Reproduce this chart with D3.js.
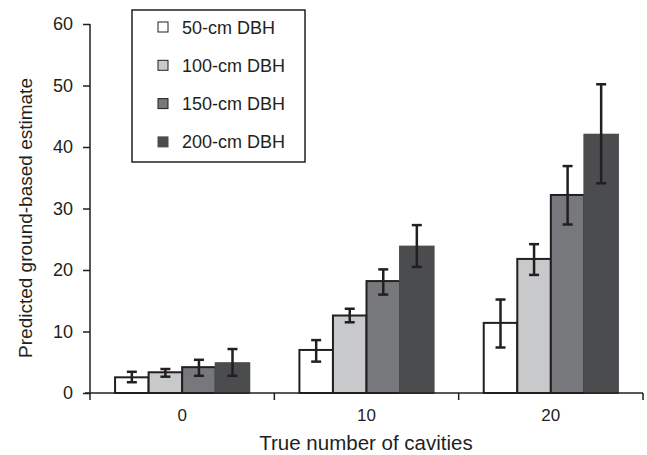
<!DOCTYPE html>
<html>
<head>
<meta charset="utf-8">
<script src="https://cdn.jsdelivr.net/npm/d3@7"></script>
<style>
  body { margin: 0; background: #fff; }
  text { font-family: "Liberation Sans", Arial, sans-serif; fill: #231f20; }
</style>
</head>
<body>
<svg id="chart" width="647" height="455"></svg>
<script>
const groups = ['0', '10', '20'];
const series = ['50-cm DBH', '100-cm DBH', '150-cm DBH', '200-cm DBH'];
const colors = ['#ffffff', '#c8c9cb', '#77787b', '#4b4c4e'];

// bar heights per series, one value per group
const values = [
  [2.55, 7.0, 11.4],
  [3.37, 12.6, 21.8],
  [4.2, 18.2, 32.2],
  [4.85, 23.8, 42.0]
];
// error bar ends
const lower = [
  [1.75, 5.1, 7.4],
  [2.65, 11.5, 19.2],
  [2.8, 16.0, 27.4],
  [2.8, 20.5, 34.1]
];
const upper = [
  [3.45, 8.6, 15.2],
  [3.9, 13.7, 24.2],
  [5.4, 20.1, 36.9],
  [7.15, 27.3, 50.2]
];
const yTicks = [0, 10, 20, 30, 40, 50, 60];

let svg = d3.select('#chart');

let margin = { left: 90, right: 4, top: 24, bottom: 62 };

let x0 = d3.scaleBand()
  .domain(groups)
  .range([margin.left, 643])
  .paddingInner(0.272)
  .paddingOuter(0.136);

let x1 = d3.scaleBand()
  .domain(series)
  .range([0, x0.bandwidth()]);

let y = d3.scaleLinear()
  .domain([0, 60])
  .range([393, 24]);

let data = [];
series.forEach((s, i) => {
  groups.forEach((g, j) => {
    data.push({ s: s, i: i, g: g, v: values[i][j], lo: lower[i][j], hi: upper[i][j] });
  });
});

// bars
svg.selectAll('.bar')
  .data(data)
  .enter()
  .append('rect')
  .attr('class', 'bar')
  .attr('x', d => x0(d.g) + x1(d.s))
  .attr('y', d => y(d.v))
  .attr('width', x1.bandwidth())
  .attr('height', d => y(0) - y(d.v))
  .attr('fill', d => colors[d.i])
  .attr('stroke', d => d.i == 3 ? '#4b4c4e' : '#231f20')
  .attr('stroke-width', 2);

// error bars
let err = svg.selectAll('.err')
  .data(data)
  .enter()
  .append('g')
  .attr('class', 'err')
  .attr('transform', d => `translate(${x0(d.g) + x1(d.s) + x1.bandwidth() / 2},0)`)
  .attr('stroke', '#231f20')
  .attr('stroke-width', 2.5);
err.append('line')
  .attr('x1', 0).attr('x2', 0)
  .attr('y1', d => y(d.lo)).attr('y2', d => y(d.hi));
err.append('line')
  .attr('x1', -5).attr('x2', 5)
  .attr('y1', d => y(d.lo)).attr('y2', d => y(d.lo));
err.append('line')
  .attr('x1', -5).attr('x2', 5)
  .attr('y1', d => y(d.hi)).attr('y2', d => y(d.hi));

// y axis
let yAxis = svg.append('g')
  .attr('transform', `translate(${margin.left},0)`)
  .call(d3.axisLeft(y).tickValues(yTicks).tickSize(7).tickPadding(10).tickSizeOuter(0));
yAxis.select('.domain').attr('stroke', '#231f20').attr('stroke-width', 1.5)
  .attr('d', `M0,${y(60)}V${y(0) + 7}`);
yAxis.selectAll('.tick line').attr('stroke', '#231f20').attr('stroke-width', 1.5);
yAxis.selectAll('.tick text').style('font-size', '18px')
  .style('font-family', '"Liberation Sans", Arial, sans-serif').attr('fill', '#231f20');

// x axis with ticks at group boundaries
let xEdges = d3.scaleLinear().domain([0, 3]).range([margin.left, 643]);
let xAxis = svg.append('g')
  .attr('transform', `translate(0,${y(0)})`);
xAxis.append('line')
  .attr('x1', margin.left - 5).attr('x2', 643)
  .attr('stroke', '#231f20').attr('stroke-width', 1.5);
xAxis.selectAll('.xtick')
  .data([1, 2, 3])
  .enter()
  .append('line')
  .attr('x1', d => xEdges(d)).attr('x2', d => xEdges(d))
  .attr('y1', 0).attr('y2', 7)
  .attr('stroke', '#231f20').attr('stroke-width', 1.5);
xAxis.selectAll('.xlabel')
  .data(groups)
  .enter()
  .append('text')
  .attr('x', d => x0(d) + x0.bandwidth() / 2)
  .attr('y', 28)
  .attr('text-anchor', 'middle')
  .style('font-size', '17px')
  .text(d => d);

// axis titles
svg.append('text')
  .attr('x', 366)
  .attr('y', 450)
  .attr('text-anchor', 'middle')
  .style('font-size', '20.5px')
  .text('True number of cavities');

svg.append('text')
  .attr('transform', 'translate(32,218) rotate(-90)')
  .attr('text-anchor', 'middle')
  .style('font-size', '19px')
  .text('Predicted ground-based estimate');

// legend
let legend = svg.append('g');
legend.append('rect')
  .attr('x', 132).attr('y', 10)
  .attr('width', 173).attr('height', 152)
  .attr('fill', '#fff')
  .attr('stroke', '#231f20')
  .attr('stroke-width', 1.5);
let item = legend.selectAll('.item')
  .data(series)
  .enter()
  .append('g')
  .attr('transform', (d, i) => `translate(158,${27 + i * 38.3})`);
item.append('rect')
  .attr('x', 0).attr('y', -5)
  .attr('width', 10).attr('height', 10)
  .attr('fill', (d, i) => colors[i])
  .attr('stroke', (d, i) => i == 3 ? '#4b4c4e' : '#231f20')
  .attr('stroke-width', 1);
item.append('text')
  .attr('x', 24)
  .attr('y', 6.5)
  .style('font-size', '18px')
  .text(d => d);
</script>
</body>
</html>
